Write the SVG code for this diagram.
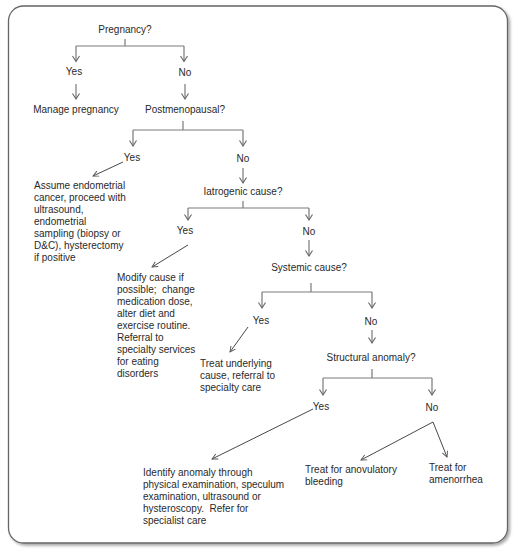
<svg xmlns="http://www.w3.org/2000/svg" width="520" height="550" viewBox="0 0 520 550">
<defs>
<style>
text{font-family:"Liberation Sans",Arial,sans-serif;font-size:10px;fill:#2a2a2a;white-space:pre}
.c{text-anchor:middle}
.tree{fill:none;stroke:#7a7a7a;stroke-width:1.2}
.head{fill:none;stroke:#666;stroke-width:1.1}
.diag{fill:none;stroke:#333;stroke-width:0.9}
</style>
<marker id="ah" viewBox="0 0 10 10" refX="9" refY="5" markerWidth="7" markerHeight="7" orient="auto" markerUnits="userSpaceOnUse">
<path d="M1,1 L9,5 L1,9" fill="none" stroke="#555" stroke-width="1.3"/>
</marker>
<filter id="sh" x="-5%" y="-5%" width="110%" height="110%">
<feGaussianBlur in="SourceAlpha" stdDeviation="1.5"/>
<feOffset dx="1.5" dy="1.5"/>
<feComponentTransfer><feFuncA type="linear" slope="0.35"/></feComponentTransfer>
<feMerge><feMergeNode/><feMergeNode in="SourceGraphic"/></feMerge>
</filter>
</defs>
<rect x="0" y="0" width="520" height="550" fill="#fff"/>
<rect x="8.5" y="6" width="499" height="537" rx="15" ry="15" fill="#fff" stroke="#666" stroke-width="1.3" filter="url(#sh)"/>

<g id="connectors">
<path class="tree" d="M125,39 V46 M76,46 H184 M76,46 V61 M184,46 V61"/>
<path class="tree" d="M76,84 V99 M185,84 V99"/>
<path class="tree" d="M183,121 V130 M133,130 H243 M133,130 V146 M243,130 V146"/>
<path class="tree" d="M243,168 V183"/>
<path class="tree" d="M243,201 V208 M188,208 H309 M188,208 V220 M309,208 V220"/>
<path class="tree" d="M309,240 V256"/>
<path class="tree" d="M311,283 V292 M262,292 H372 M262,292 V308 M372,292 V308"/>
<path class="tree" d="M372,330 V343"/>
<path class="tree" d="M372,369 V378 M323,378 H432 M323,378 V395 M432,378 V395"/>
<path class="head" d="M72.5,56 L76,61.5 L79.5,56 M180.5,56 L184,61.5 L187.5,56"/>
<path class="head" d="M72.5,93.5 L76,99 L79.5,93.5 M181.5,93.5 L185,99 L188.5,93.5"/>
<path class="head" d="M129.5,140.5 L133,146 L136.5,140.5 M239.5,140.5 L243,146 L246.5,140.5"/>
<path class="head" d="M239.5,177.5 L243,183 L246.5,177.5"/>
<path class="head" d="M184.5,214.5 L188,220 L191.5,214.5 M305.5,214.5 L309,220 L312.5,214.5"/>
<path class="head" d="M305.5,250.5 L309,256 L312.5,250.5"/>
<path class="head" d="M258.5,302.5 L262,308 L265.5,302.5 M368.5,302.5 L372,308 L375.5,302.5"/>
<path class="head" d="M368.5,337.5 L372,343 L375.5,337.5"/>
<path class="head" d="M319.5,389.5 L323,395 L326.5,389.5 M428.5,389.5 L432,395 L435.5,389.5"/>
<line class="diag" x1="123" y1="162" x2="93" y2="176" marker-end="url(#ah)"/>
<line class="diag" x1="188" y1="245" x2="152" y2="267" marker-end="url(#ah)"/>
<line class="diag" x1="248" y1="327" x2="230" y2="352" marker-end="url(#ah)"/>
<line class="diag" x1="313" y1="409" x2="212" y2="459" marker-end="url(#ah)"/>
<line class="diag" x1="433" y1="422" x2="361" y2="460" marker-end="url(#ah)"/>
<line class="diag" x1="433" y1="422" x2="447" y2="457" marker-end="url(#ah)"/>
</g>

<g id="n-pregnancy"><text class="c" x="125" y="33">Pregnancy?</text></g>
<g id="n-yes1"><text class="c" x="74" y="75">Yes</text></g>
<g id="n-no1"><text class="c" x="185" y="75.5">No</text></g>
<g id="n-manage"><text class="c" x="76" y="113">Manage pregnancy</text></g>
<g id="n-postmeno"><text class="c" x="185" y="113">Postmenopausal?</text></g>
<g id="n-yes2"><text class="c" x="132" y="161">Yes</text></g>
<g id="n-no2"><text class="c" x="243" y="162">No</text></g>
<g id="n-endometrial">
<text x="34" y="189">Assume endometrial</text>
<text x="34" y="201">cancer, proceed with</text>
<text x="34" y="213">ultrasound,</text>
<text x="34" y="225">endometrial</text>
<text x="34" y="237">sampling (biopsy or</text>
<text x="34" y="249">D&amp;C), hysterectomy</text>
<text x="34" y="261">if positive</text>
</g>
<g id="n-iatrogenic"><text class="c" x="243" y="195">Iatrogenic cause?</text></g>
<g id="n-yes3"><text class="c" x="185" y="234">Yes</text></g>
<g id="n-no3"><text class="c" x="309" y="234.5">No</text></g>
<g id="n-modify">
<text x="117" y="280.5">Modify cause if</text>
<text x="117" y="292.5" xml:space="preserve">possible;  change</text>
<text x="117" y="304.5">medication dose,</text>
<text x="117" y="316.5">alter diet and</text>
<text x="117" y="328.5">exercise routine.</text>
<text x="117" y="340.5">Referral to</text>
<text x="117" y="352.5">specialty services</text>
<text x="117" y="364.5">for eating</text>
<text x="117" y="376.5">disorders</text>
</g>
<g id="n-systemic"><text class="c" x="309" y="271">Systemic cause?</text></g>
<g id="n-yes4"><text class="c" x="261" y="324">Yes</text></g>
<g id="n-no4"><text class="c" x="371" y="324.5">No</text></g>
<g id="n-underlying">
<text x="200" y="367">Treat underlying</text>
<text x="200" y="379">cause, referral to</text>
<text x="200" y="391">specialty care</text>
</g>
<g id="n-structural"><text class="c" x="371" y="361">Structural anomaly?</text></g>
<g id="n-yes5"><text class="c" x="321" y="410">Yes</text></g>
<g id="n-no5"><text class="c" x="432" y="411">No</text></g>
<g id="n-identify">
<text x="143" y="476">Identify anomaly through</text>
<text x="143" y="488">physical examination, speculum</text>
<text x="143" y="500">examination, ultrasound or</text>
<text x="143" y="512" xml:space="preserve">hysteroscopy.  Refer for</text>
<text x="143" y="524">specialist care</text>
</g>
<g id="n-anovulatory">
<text x="305" y="473">Treat for anovulatory</text>
<text x="305" y="485">bleeding</text>
</g>
<g id="n-amenorrhea">
<text x="429" y="471">Treat for</text>
<text x="429" y="483">amenorrhea</text>
</g>
</svg>
